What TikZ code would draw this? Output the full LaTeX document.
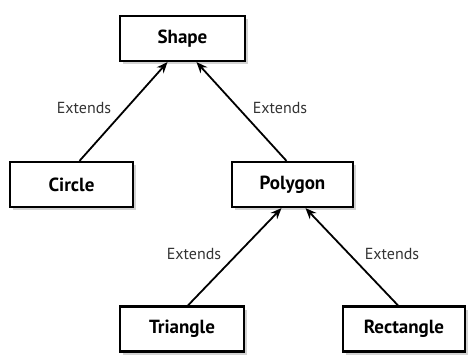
\documentclass[tikz,border=0pt]{standalone}
\usepackage{fontspec}
\setmainfont{PT Sans}
\usetikzlibrary{arrows.meta,shadows}

\tikzset{
  classbox/.style={draw, line width=2.2pt, fill=white, minimum height=45pt,
    font=\fontsize{19}{21}\selectfont\bfseries,
    drop shadow={shadow xshift=2.5pt, shadow yshift=-3pt, opacity=0.35}},
  extends/.style={font=\fontsize{16}{18}\selectfont, text=black!80},
  inherit/.style={-{Stealth[length=11pt, width=9pt]}, line width=1.8pt}
}

\begin{document}
\begin{tikzpicture}[x=1pt, y=-1pt]
  \useasboundingbox (0,0) rectangle (472,360);
  % clases
  \node[classbox, minimum width=125pt] (shape) at (182.5,38.5) {Shape};
  \node[classbox, minimum width=123pt] (circle) at (71.5,184.5) {Circle};
  \node[classbox, minimum width=121pt] (polygon) at (292.5,184.5) {Polygon};
  \node[classbox, minimum width=124pt] (triangle) at (182,329) {Triangle};
  \node[classbox, minimum width=122pt] (rectangle) at (404,329) {Rectangle};
  % herencia
  \draw[inherit] ([xshift=8pt]circle.north) -- ([xshift=-15pt]shape.south);
  \draw[inherit] ([xshift=-6pt]polygon.north) -- ([xshift=14pt]shape.south);
  \draw[inherit] ([xshift=6pt]triangle.north) -- ([xshift=-11pt]polygon.south);
  \draw[inherit] ([xshift=-6pt]rectangle.north) -- ([xshift=13pt]polygon.south);
  % etiquetas
  \node[extends] (ext1) at (84,108) {Extends};
  \node[extends] (ext2) at (280,108) {Extends};
  \node[extends] (ext3) at (194,254) {Extends};
  \node[extends] (ext4) at (392,254) {Extends};
\end{tikzpicture}
\end{document}
